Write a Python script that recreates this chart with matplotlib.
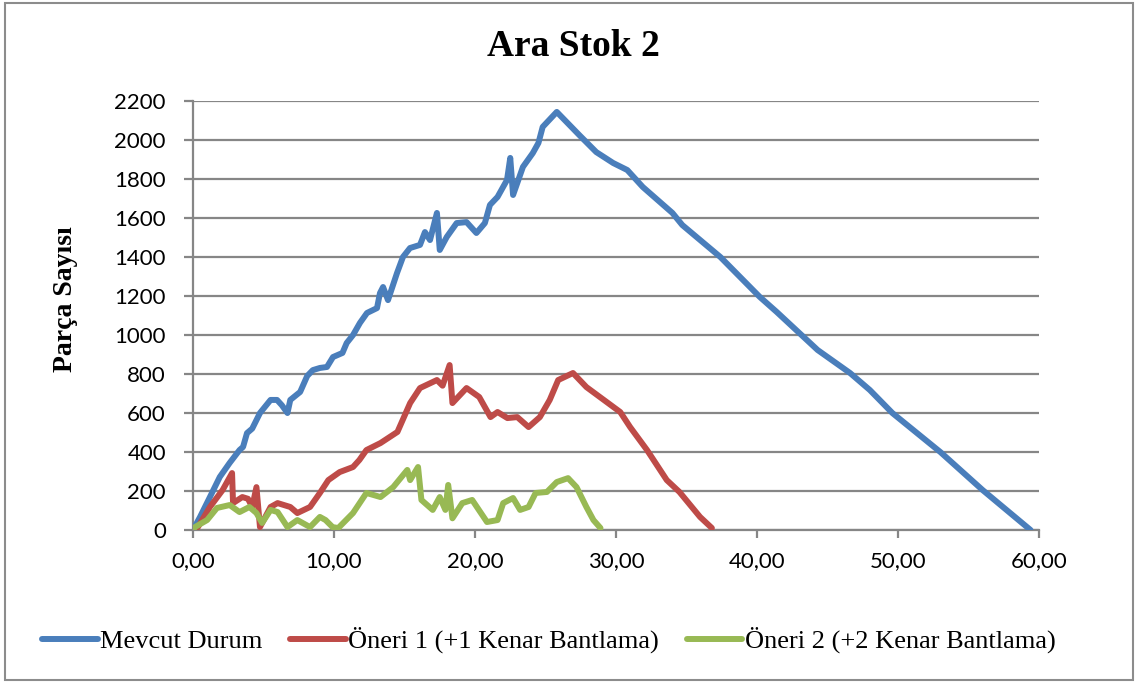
import matplotlib
matplotlib.use("Agg")
import matplotlib.pyplot as plt
from matplotlib.patches import Rectangle
from matplotlib.ticker import FuncFormatter

# Time axis (x) and stock level (y) for each scenario
mevcut_x = [0.0, 0.5, 1.2, 1.9, 2.6, 3.3, 3.55, 3.83, 4.2, 4.75, 5.5, 5.96, 6.3,
            6.7, 6.9, 7.6, 8.1, 8.5, 9.0, 9.5, 9.93, 10.6,
            10.9, 11.35, 11.84, 12.34, 13.05, 13.26, 13.48, 13.83, 14.47, 14.89,
            15.39, 16.1, 16.45, 16.81, 17.3, 17.5, 18.0, 18.7, 19.4, 20.1, 20.7,
            21.06, 21.6, 22.27, 22.5, 22.7, 23.4, 24.1, 24.5, 24.8, 25.8, 27.4,
            28.6, 29.8, 30.8, 31.9, 34.0, 34.7, 37.4, 40.2, 41.4, 44.3, 46.6, 48.0,
            49.6, 53.0, 56.0, 59.4]
mevcut_y = [0, 67, 169, 272, 344, 410, 426, 497, 520, 600, 667, 667, 640,
            600, 667, 708, 790, 820, 831, 836, 887, 908,
            959, 1000, 1062, 1113, 1138, 1215, 1246, 1179, 1318, 1400,
            1446, 1462, 1528, 1487, 1626, 1436, 1503, 1574, 1579, 1523, 1574,
            1667, 1708, 1795, 1908, 1718, 1862, 1933, 1985, 2067, 2144, 2025,
            1938, 1882, 1846, 1759, 1626, 1564, 1400, 1195, 1118, 923, 805, 718,
            600, 400, 205, 0]

oneri1_x = [0.0, 0.35, 1.2, 2.1, 2.77, 2.84, 3.5, 3.9, 4.2, 4.5, 4.75,
            5.5, 6.0, 6.9, 7.4, 8.3, 9.0, 9.6, 10.4, 11.35, 11.8, 12.3, 13.3, 14.5,
            15.4, 16.1, 17.3, 17.7, 18.2, 18.4, 19.4, 20.3, 21.1, 21.6, 22.3, 23.0,
            23.8, 24.6, 25.3, 25.9, 26.95, 27.9, 30.3, 31.0, 32.2, 33.6, 34.5,
            35.96, 36.8]
oneri1_y = [0, 15, 118, 205, 292, 138, 169, 160, 118, 220, 15,
            118, 138, 118, 87, 118, 190, 256, 297, 323, 359, 410, 446, 503,
            651, 728, 769, 740, 846, 651, 728, 682, 579, 605, 574, 579,
            528, 579, 667, 769, 805, 733, 605, 528, 410, 256, 195,
            67, 10]

oneri2_x = [0.0, 0.14, 1.0, 1.7, 2.6, 3.3, 4.0, 4.5, 4.9, 5.5, 6.0, 6.7, 7.4, 8.3,
            9.0, 9.4, 9.9, 10.3, 11.35, 12.3, 13.3, 14.2, 15.2, 15.4,
            15.96, 16.2, 17.0, 17.5, 17.9, 18.1, 18.4, 19.1, 19.8, 20.85, 21.6, 22.0,
            22.7, 23.2, 23.8, 24.3, 25.1, 25.8, 26.6, 27.2, 27.9, 28.4, 28.9]
oneri2_y = [0, 15, 51, 113, 128, 92, 118, 87, 36, 103, 92, 15, 51, 15,
            67, 51, 15, 10, 87, 190, 169, 220, 308, 256,
            323, 154, 103, 169, 103, 231, 60, 138, 154, 41, 51, 138,
            164, 103, 118, 190, 195, 246, 266, 220, 118, 51, 10]

series_names = ["Mevcut Durum", "Öneri 1 (+1 Kenar Bantlama)", "Öneri 2 (+2 Kenar Bantlama)"]
x_ticks = [0, 10, 20, 30, 40, 50, 60]
y_ticks = list(range(0, 2201, 200))

W, H = 1136, 683
fig = plt.figure(figsize=(W / 100, H / 100), dpi=100)
fig.patch.set_facecolor("white")

ax = fig.add_axes([193 / W, 1 - 530 / H, (1039 - 193) / W, (530 - 101) / H])

grid_c = "#868686"
colors = ["#4A7EBB", "#BE4B48", "#98B954"]
lw = 4.3
for xs, ys, c, name, z in [(mevcut_x, mevcut_y, colors[0], series_names[0], 3),
                           (oneri1_x, oneri1_y, colors[1], series_names[1], 4),
                           (oneri2_x, oneri2_y, colors[2], series_names[2], 5)]:
    ax.plot(xs, ys, color=c, lw=lw, solid_joinstyle="round",
            solid_capstyle="round", label=name, zorder=z)

ax.set_xlim(0, 60)
ax.set_ylim(0, 2200)
ax.set_xticks(x_ticks)
ax.set_yticks(y_ticks)
ax.xaxis.set_major_formatter(FuncFormatter(lambda v, p: f"{v:.2f}".replace(".", ",")))
ax.yaxis.grid(True, color=grid_c, lw=1.6, zorder=1)
ax.set_axisbelow(True)
for s in ["top", "right"]:
    ax.spines[s].set_visible(False)
ax.spines["left"].set_color(grid_c)
ax.spines["left"].set_linewidth(1.6)
ax.spines["bottom"].set_color(grid_c)
ax.spines["bottom"].set_linewidth(1.6)
ax.tick_params(axis="y", length=6.5, width=1.6, color=grid_c, pad=13,
               labelsize=16, labelfontfamily="Lato")
ax.tick_params(axis="x", length=6, width=1.6, color=grid_c, pad=9,
               labelsize=16, labelfontfamily="Lato")

fig.text(573 / W, 1 - 47 / H, "Ara Stok 2", ha="center", va="center",
         fontsize=27, fontweight="bold", family="Liberation Serif")
fig.text(65 / W, 1 - 299 / H, "Parça Sayısı", ha="center", va="center",
         rotation=90, fontsize=20, fontweight="bold", family="Liberation Serif")

leg = fig.legend(loc="center", bbox_to_anchor=(549 / W, 1 - 640 / H), ncol=3,
                 frameon=False, handlelength=2.1, handletextpad=0.1,
                 columnspacing=1.05, prop={"family": "Liberation Serif", "size": 19})
for line in leg.get_lines():
    line.set_linewidth(4.3)

fig.patches.append(Rectangle((5 / W, 3 / H), (1133 - 5) / W, (680 - 3) / H,
                             transform=fig.transFigure, fill=False,
                             edgecolor="#8C8C8C", lw=1.5))

fig.savefig("out.png", dpi=100)
